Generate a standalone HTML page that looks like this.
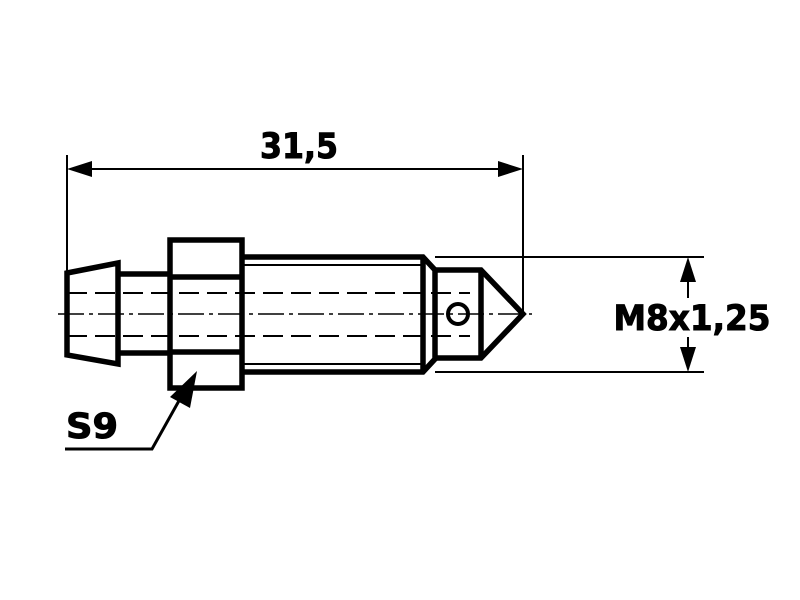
<!DOCTYPE html>
<html><head><style>body{margin:0;background:#fff}svg{display:block}</style></head><body>
<svg width="800" height="600" viewBox="0 0 800 600" xmlns="http://www.w3.org/2000/svg">
<rect width="800" height="600" fill="#fff"/>
<g stroke="#000" fill="none" stroke-linecap="butt" stroke-linejoin="miter">
<line x1="67" y1="155" x2="67" y2="272" stroke-width="2"/>
<line x1="523" y1="155" x2="523" y2="312" stroke-width="2"/>
<line x1="80" y1="169" x2="510" y2="169" stroke-width="2"/>
<line x1="435" y1="257" x2="704" y2="257" stroke-width="2"/>
<line x1="435" y1="372" x2="704" y2="372" stroke-width="2"/>
<line x1="688" y1="270" x2="688" y2="298" stroke-width="2"/>
<line x1="688" y1="337" x2="688" y2="360" stroke-width="2"/>
<line x1="58" y1="314" x2="532" y2="314" stroke-width="1.5" stroke-dasharray="26,5,4,5"/>
<line x1="67" y1="293" x2="470" y2="293" stroke-width="2" stroke-dasharray="20,8"/>
<line x1="67" y1="336" x2="470" y2="336" stroke-width="2" stroke-dasharray="20,8"/>
<polygon points="67,273 118,263 118,364 67,355" stroke-width="5.5"/>
<line x1="118" y1="274" x2="170" y2="274" stroke-width="5.5"/>
<line x1="118" y1="353" x2="170" y2="353" stroke-width="5.5"/>
<rect x="170" y="240" width="72" height="148" stroke-width="5.5"/>
<line x1="170" y1="277" x2="242" y2="277" stroke-width="5.5"/>
<line x1="170" y1="352" x2="242" y2="352" stroke-width="5.5"/>
<polyline points="242,257 423,257 435,270 435,359 423,372 242,372" stroke-width="5.5"/>
<line x1="244" y1="265" x2="423" y2="265" stroke-width="2"/>
<line x1="244" y1="364" x2="423" y2="364" stroke-width="2"/>
<line x1="423" y1="257" x2="423" y2="372" stroke-width="5.5"/>
<polyline points="435,270 481,270 523,314 481,358 435,358" stroke-width="5.5"/>
<line x1="481" y1="270" x2="481" y2="358" stroke-width="5.5"/>
<circle cx="458" cy="314" r="10" stroke-width="4"/>
<polyline points="65,449 152,449 185,390" stroke-width="3"/>
</g>
<g fill="#000">
<polygon points="67,169 92,161 92,177"/>
<polygon points="523,169 498,161 498,177"/>
<polygon points="688,257 680,282 696,282"/>
<polygon points="688,372 680,347 696,347"/>
<polygon points="197,371 190,408 170,397"/>
</g>
<g font-family="'DejaVu Sans','Liberation Sans',sans-serif" font-weight="bold" font-size="35" stroke="#000" stroke-width="1">
<text x="260" y="158" textLength="78" lengthAdjust="spacingAndGlyphs">31,5</text>
<text x="692" y="330" text-anchor="middle" textLength="157" lengthAdjust="spacingAndGlyphs">M8x1,25</text>
<text x="66" y="438" textLength="52" lengthAdjust="spacingAndGlyphs">S9</text>
</g>
</svg>
</body></html>
